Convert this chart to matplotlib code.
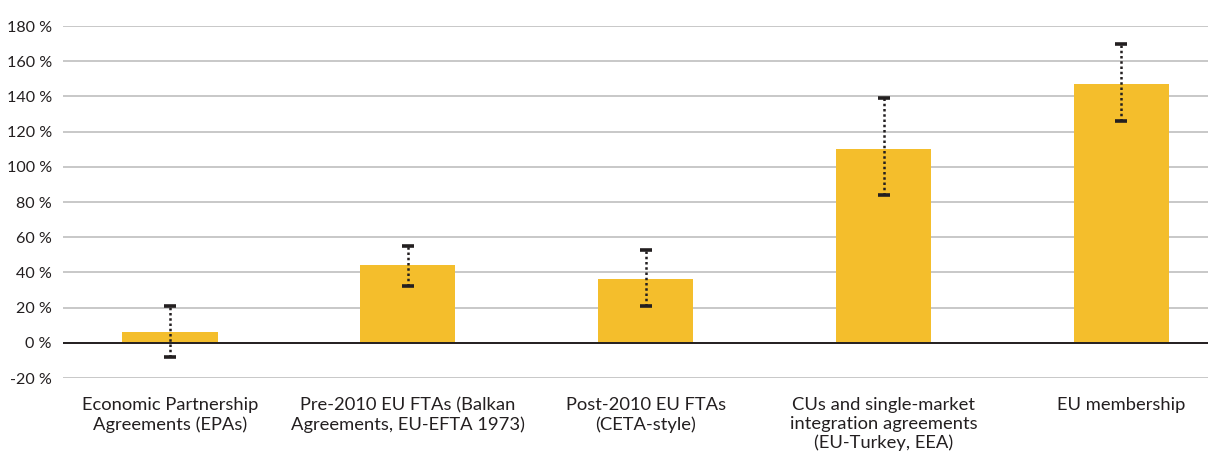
import matplotlib
matplotlib.use("Agg")
import matplotlib.pyplot as plt
import numpy as np

categories = [
    "Economic Partnership\nAgreements (EPAs)",
    "Pre-2010 EU FTAs (Balkan\nAgreements, EU-EFTA 1973)",
    "Post-2010 EU FTAs\n(CETA-style)",
    "CUs and single-market\nintegration agreements\n(EU-Turkey, EEA)",
    "EU membership",
]
estimate = [6, 44, 36, 110, 147]
upper = [21, 55, 53, 139, 170]
lower = [-8, 32, 21, 84, 126]
y_ticks = [-20, 0, 20, 40, 60, 80, 100, 120, 140, 160, 180]
y_tick_labels = [f"{v} %" for v in y_ticks]

bar_color = "#F4BE2C"
text_color = "#231F20"

plt.rcParams["font.family"] = ["Lato", "DejaVu Sans"]

fig = plt.figure(figsize=(12.08, 4.54), dpi=100)
ax = fig.add_axes([63 / 1208, 1 - 378 / 454, 1 - 63 / 1208, (378 - 26) / 454])

x = np.arange(len(categories))
ax.bar(x, estimate, width=0.40, color=bar_color, zorder=2)

est = np.array(estimate)
yerr = np.vstack([est - np.array(lower), np.array(upper) - est])
eb = ax.errorbar(x, est, yerr=yerr, fmt="none", ecolor=text_color,
                 elinewidth=1.8, capsize=4.5, capthick=2.6, zorder=4)
for col in eb[2]:
    col.set_linestyle((0, (1.0, 1.1)))

ax.set_ylim(-20, 180)
ax.set_xlim(-0.45, 4.364)
ax.set_yticks(y_ticks)
ax.set_yticklabels(y_tick_labels)
ax.set_xticks(x)
ax.set_xticklabels(categories, fontsize=13.2, linespacing=1.2)

ax.yaxis.grid(True, color="#C8C8C8", linewidth=1.4, zorder=0)
ax.set_axisbelow(True)
ax.axhline(0, color=text_color, linewidth=1.4, zorder=3)

for s in ax.spines.values():
    s.set_visible(False)
ax.tick_params(axis="both", length=0, colors=text_color)
ax.tick_params(axis="y", pad=8, labelsize=11.6)
ax.tick_params(axis="x", pad=14)

fig.savefig("out.png", dpi=100)
